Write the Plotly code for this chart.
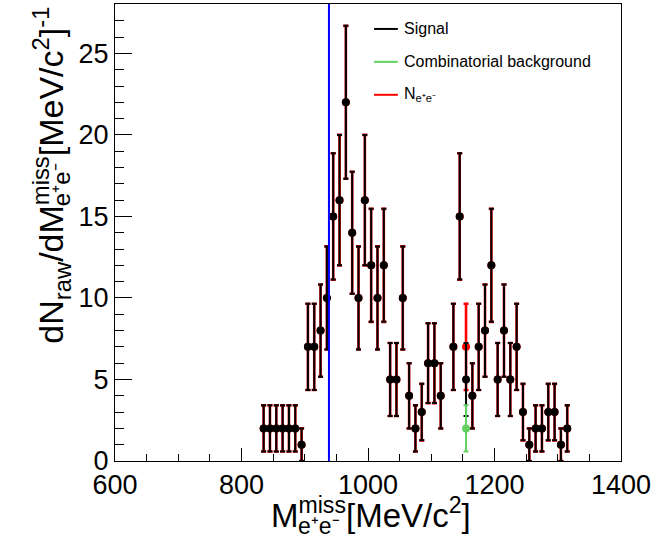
import numpy as np
import plotly.graph_objects as go

# Bin centres of the missing-mass histogram (MeV/c^2); empty bins are not drawn
bin_centres = [835, 845, 855, 865, 875, 885, 895, 905, 915, 925, 935, 945, 955,
               965, 975, 985, 995, 1005, 1015, 1025, 1035, 1045, 1055, 1065,
               1075, 1085, 1095, 1105, 1115, 1135, 1145, 1155, 1165, 1175,
               1185, 1195, 1205, 1215, 1225, 1235, 1245, 1255, 1265, 1275,
               1285, 1295, 1305, 1315]

# Raw e+e- pair counts per bin
n_ee = [2, 2, 2, 2, 2, 2, 1, 7, 7, 8, 10, 15, 16,
        22, 14, 10, 16, 12, 10, 12, 5, 5, 10, 4,
        2, 3, 6, 6, 4, 7, 15, 7, 4, 7,
        8, 12, 5, 8, 5, 7, 3, 1, 2, 2,
        3, 3, 1, 2]

# Signal = N_ee minus combinatorial background
signal = [2, 2, 2, 2, 2, 2, 1, 7, 7, 8, 10, 15, 16,
          22, 14, 10, 16, 12, 10, 12, 5, 5, 10, 4,
          2, 3, 6, 6, 4, 7, 15, 5, 4, 7,
          8, 12, 5, 8, 5, 7, 3, 1, 2, 2,
          3, 3, 1, 2]

# Combinatorial background (only non-empty bins)
bg_centres = [1155]
bg_counts = [2]

PROTON_MASS = 938.27  # MeV/c^2

x_ticks = [600, 800, 1000, 1200, 1400]
y_ticks = [0, 5, 10, 15, 20, 25]

BLACK = "#000000"
RED = "#ff0000"
GREEN = "#62d162"
BLUE = "#0000ff"

X_TITLE_SIZE = 33
Y_TITLE_SIZE = 34
TICK_SIZE = 27
LEGEND_SIZE = 16

fig = go.Figure()

# N_ee (red, drawn underneath)
fig.add_trace(go.Scatter(
    x=bin_centres, y=n_ee, mode="markers", name="N_ee", showlegend=False,
    marker=dict(color=RED, size=8),
    error_y=dict(type="data", array=np.sqrt(n_ee), color=RED, thickness=2.6, width=2.5),
))

# Signal (black)
fig.add_trace(go.Scatter(
    x=bin_centres, y=signal, mode="markers", name="Signal", showlegend=False,
    marker=dict(color=BLACK, size=8),
    error_y=dict(type="data", array=np.sqrt(signal), color=BLACK, thickness=2, width=2.5),
))

# Combinatorial background (green)
fig.add_trace(go.Scatter(
    x=bg_centres, y=bg_counts, mode="markers", name="Combinatorial background",
    showlegend=False,
    marker=dict(color=GREEN, size=8),
    error_y=dict(type="data", array=np.sqrt(bg_counts), color=GREEN, thickness=2, width=2.5),
))

# Proton mass reference line
fig.add_shape(type="line", xref="x", yref="paper", x0=PROTON_MASS, x1=PROTON_MASS,
              y0=0, y1=1, line=dict(color=BLUE, width=2))

# Legend (line samples + labels)
legend_items = [("Signal", BLACK, 0.9454),
                ("Combinatorial background", GREEN, 0.8734),
                ("N<sub>e⁺e⁻</sub>", RED, 0.8013)]
for label, col, yy in legend_items:
    fig.add_shape(type="line", xref="paper", yref="paper", x0=0.512, x1=0.559,
                  y0=yy, y1=yy, line=dict(color=col, width=2))
    fig.add_annotation(xref="paper", yref="paper", x=0.567, y=yy, text=label,
                       showarrow=False, xanchor="left", yanchor="middle",
                       font=dict(size=LEGEND_SIZE, color="#000000"))

# x-axis title: main text plus the e+e- index stacked under "miss"
fig.add_annotation(
    xref="paper", yref="paper", x=0.3039, y=-0.0638, xanchor="left", yanchor="top",
    text="M<sup>miss</sup>[MeV/c<sup>2</sup>]", showarrow=False,
    font=dict(size=X_TITLE_SIZE, color="#000000"))
fig.add_annotation(
    xref="paper", yref="paper", x=0.3578, y=-0.1094, xanchor="left", yanchor="top",
    text="e⁺e⁻", showarrow=False, font=dict(size=23, color="#000000"))

# y-axis title (rotated): main text plus the stacked e+e- index
fig.add_annotation(
    xref="paper", yref="paper", x=-0.1780, y=0.2533, xanchor="left", yanchor="bottom",
    textangle=-90,
    text="dN<sub>raw</sub>/dM<sup>miss</sup>[MeV/c<sup>2</sup>]<sup>-1</sup>",
    showarrow=False, font=dict(size=Y_TITLE_SIZE, color="#000000"))
fig.add_annotation(
    xref="paper", yref="paper", x=-0.1361, y=0.5535, xanchor="left", yanchor="bottom",
    textangle=-90, text="e⁺e⁻", showarrow=False,
    font=dict(size=24, color="#000000"))

fig.update_layout(
    width=654, height=546,
    margin=dict(l=115, r=29, t=3, b=85),
    paper_bgcolor="white", plot_bgcolor="white",
    font=dict(family="Liberation Sans, Arial, sans-serif", color="#000000"),
    showlegend=False,
)

fig.update_xaxes(
    range=[600, 1400], tickvals=x_ticks, ticktext=[str(v) for v in x_ticks],
    ticks="inside", ticklen=13, tickwidth=1, tickcolor="black",
    minor=dict(dtick=50, ticks="inside", ticklen=7, tickcolor="black"),
    showline=True, linecolor="black", linewidth=1, mirror=True,
    showgrid=False, zeroline=False, tickfont=dict(size=TICK_SIZE),
    ticklabeloverflow="allow",
)
fig.update_yaxes(
    range=[0, 28.03], tickvals=y_ticks, ticktext=[str(v) for v in y_ticks],
    ticks="inside", ticklen=17, tickwidth=1, tickcolor="black",
    minor=dict(dtick=1, ticks="inside", ticklen=9, tickcolor="black"),
    showline=True, linecolor="black", linewidth=1, mirror=True,
    showgrid=False, zeroline=False, tickfont=dict(size=TICK_SIZE),
    ticklabeloverflow="allow",
)

fig.write_html("out.html")
